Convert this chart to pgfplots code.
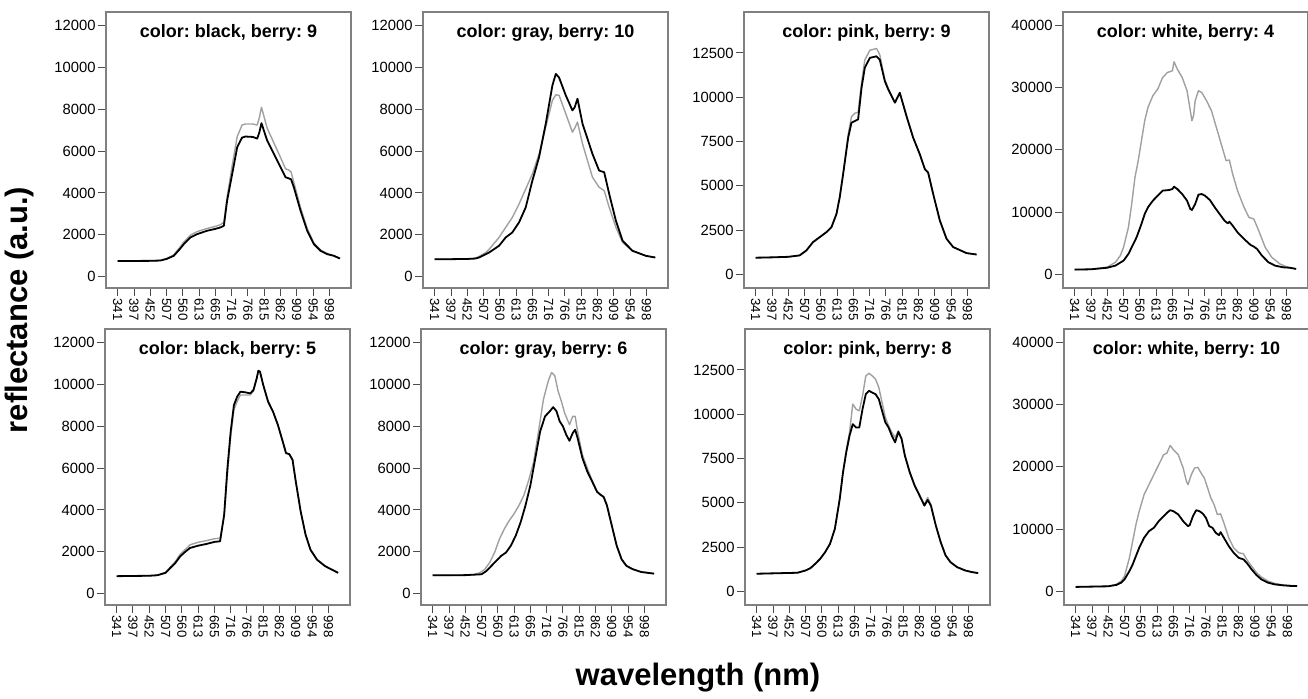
\documentclass[border=0pt]{standalone}
\usepackage{fontspec}
\setmainfont{Liberation Sans}
\usepackage{pgfplots}
\pgfplotsset{compat=1.18}
\frenchspacing
\definecolor{boxgray}{RGB}{128,128,128}
\definecolor{lightline}{RGB}{160,160,160}
\pgfplotsset{
  panel/.style={
    width=122.5pt, height=138pt, scale only axis,
    xmin=-0.72, xmax=14.33,
    xtick={0,...,13},
    xticklabels={341,397,452,507,560,613,665,716,766,815,862,909,954,998},
    xticklabel style={rotate=-90, anchor=west, font=\fontsize{6.6}{7.5}\selectfont, inner sep=1pt},
    yticklabel style={font=\fontsize{7.4}{8}\selectfont, inner sep=1pt},
    tick align=outside, major tick length=4pt,
    xtick pos=left, ytick pos=left,
    axis line style={boxgray, line width=0.6pt},
    tick style={black!70, line width=0.5pt},
    /pgf/number format/assume math mode=true,
    /pgf/number format/1000 sep={},
    scaled y ticks=false,
    every axis title shift=0pt,
    title style={at={(0.5,0.955)}, anchor=north, inner sep=0pt,
      font=\bfseries\fontsize{9}{10}\selectfont},
  },
  g/.style={lightline, line width=0.7pt, line join=round},
  k/.style={black, line width=0.9pt, line join=round},
  ya/.style={ymin=-550, ymax=12660, ytick={0,2000,...,12000}},
  yb/.style={ymin=-770, ymax=14810, ytick={0,2500,...,12500}},
  yc/.style={ymin=-2150, ymax=42100, ytick={0,10000,...,40000}},
}
\begin{document}
\begin{tikzpicture}
\useasboundingbox (0,0) rectangle (654pt,349pt);

% top row
\begin{axis}[panel, ya, at={(53pt,205pt)}, anchor=south west, title={color: black, berry: 9}]
\addplot[g] coordinates {(0,740) (2,750) (2.62,770) (3.0,860) (3.44,1030) (3.8,1380) (4.06,1650) (4.47,1980) (4.88,2150) (5.49,2300) (6.0,2400) (6.31,2480) (6.52,2600) (6.72,3800) (7.03,5300) (7.34,6700) (7.64,7250) (7.85,7300) (8.3,7300) (8.57,7250) (8.7,7600) (8.83,8100) (9.18,7100) (9.59,6400) (10.0,5700) (10.31,5150) (10.5,5100) (10.65,5000) (10.82,4500) (11.23,3300) (11.64,2300) (12.05,1600) (12.46,1270) (12.87,1100) (13.28,1000) (13.65,870)};
\addplot[k] coordinates {(0,740) (1,745) (2,750) (2.62,765) (3.0,840) (3.44,990) (3.8,1300) (4.06,1550) (4.47,1870) (4.88,2030) (5.49,2190) (6.0,2280) (6.31,2350) (6.52,2430) (6.72,3630) (7.03,4900) (7.34,6190) (7.64,6650) (7.85,6700) (8.3,6680) (8.57,6600) (8.7,6900) (8.83,7340) (9.18,6510) (9.59,5870) (10.0,5230) (10.31,4750) (10.5,4700) (10.65,4650) (10.82,4270) (11.23,3150) (11.64,2190) (12.05,1550) (12.46,1230) (12.87,1070) (13.28,990) (13.65,860)};
\end{axis}

\begin{axis}[panel, ya, at={(211.5pt,205pt)}, anchor=south west, title={color: gray, berry: 10}]
\addplot[g] coordinates {(0,830) (2,840) (2.48,870) (2.73,960) (3.14,1150) (3.34,1300) (3.95,1870) (4.36,2350) (4.77,2830) (5.18,3470) (5.59,4190) (6.0,4910) (6.41,5870) (6.82,7150) (7.23,8430) (7.44,8700) (7.64,8670) (8.05,7790) (8.46,6910) (8.6,7100) (8.77,7390) (9.08,6350) (9.69,4750) (10.1,4270) (10.41,4110) (10.72,3310) (11.13,2350) (11.54,1630) (12.15,1230) (12.97,990) (13.55,910)};
\addplot[k] coordinates {(0,830) (1,830) (2,840) (2.48,860) (2.73,910) (3.34,1150) (3.95,1470) (4.36,1870) (4.77,2110) (5.18,2590) (5.59,3310) (6.0,4590) (6.41,5710) (6.82,7310) (7.23,9150) (7.44,9700) (7.64,9520) (8.05,8670) (8.46,7950) (8.6,8100) (8.77,8510) (9.08,7310) (9.69,5870) (10.1,5070) (10.41,4990) (10.72,3950) (11.13,2670) (11.54,1710) (12.15,1230) (12.97,990) (13.55,910)};
\end{axis}

\begin{axis}[panel, yb, at={(372pt,205pt)}, anchor=south west, title={color: pink, berry: 9}]
\addplot[g] coordinates {(0,940) (1,960) (2,990) (2.7,1070) (3.11,1350) (3.52,1820) (3.93,2100) (4.34,2380) (4.65,2660) (4.96,3410) (5.16,4350) (5.37,5700) (5.68,7900) (5.88,8900) (6.09,9100) (6.29,9150) (6.5,10800) (6.7,12100) (7.01,12650) (7.42,12750) (7.62,12400) (7.93,11000) (8.14,10500) (8.55,9700) (8.85,10250) (9.26,8940) (9.67,7720) (10.08,6780) (10.39,5940) (10.59,5750) (10.9,4540) (11.31,3040) (11.72,2010) (12.13,1540) (12.95,1200) (13.57,1120)};
\addplot[k] coordinates {(0,940) (1,960) (2,990) (2.7,1070) (3.11,1350) (3.52,1820) (3.93,2100) (4.34,2380) (4.65,2660) (4.96,3410) (5.16,4350) (5.37,5660) (5.68,7720) (5.88,8560) (6.09,8660) (6.29,8750) (6.5,10530) (6.7,11660) (7.01,12220) (7.42,12310) (7.62,12120) (7.93,10910) (8.14,10440) (8.55,9690) (8.85,10250) (9.26,8940) (9.67,7720) (10.08,6780) (10.39,5940) (10.59,5750) (10.9,4540) (11.31,3040) (11.72,2010) (12.13,1540) (12.95,1200) (13.57,1120)};
\end{axis}

\begin{axis}[panel, yc, at={(531.5pt,205pt)}, anchor=south west, title={color: white, berry: 4}]
\addplot[g] coordinates {(0,800) (1,850) (2.0,1200) (2.5,1980) (2.8,3040) (3.0,4380) (3.3,7580) (3.5,11320) (3.7,15590) (3.9,18260) (4.1,21470) (4.3,24670) (4.5,26810) (4.8,28680) (5.1,29740) (5.4,31610) (5.7,32410) (6.0,32680) (6.1,34120) (6.3,32950) (6.6,31610) (6.9,29480) (7.1,26270) (7.2,24670) (7.3,25470) (7.4,27870) (7.6,29480) (7.8,29210) (8.1,27870) (8.4,26270) (8.7,23600) (9.0,20930) (9.3,18260) (9.5,18370) (9.7,16130) (10.0,13460) (10.4,10790) (10.7,9180) (11.0,8920) (11.3,7050) (11.7,4380) (12.1,2780) (12.6,1710) (13.1,1170) (13.6,910)};
\addplot[k] coordinates {(0,800) (1,850) (2,1100) (2.5,1440) (3.0,2240) (3.3,3310) (3.5,4380) (3.8,5980) (4.1,8120) (4.3,9720) (4.5,10790) (4.8,11850) (5.1,12660) (5.4,13460) (5.8,13560) (6.0,13720) (6.1,14100) (6.3,13720) (6.6,12920) (6.9,11850) (7.1,10520) (7.2,10360) (7.4,11320) (7.6,12820) (7.8,12920) (8.0,12660) (8.3,11960) (8.6,10790) (8.9,9720) (9.2,8650) (9.4,8220) (9.5,8490) (9.7,7850) (10.0,6780) (10.4,5710) (10.8,4750) (11.0,4490) (11.2,4110) (11.5,3040) (11.9,1980) (12.3,1440) (12.8,1170) (13.2,1100) (13.6,910)};
\end{axis}

% bottom row
\begin{axis}[panel, ya, at={(52.5pt,46.5pt)}, anchor=south west, title={color: black, berry: 5}]
\addplot[g] coordinates {(0,830) (1,840) (2,850) (2.5,880) (3.0,1010) (3.3,1270) (3.6,1530) (3.9,1880) (4.2,2100) (4.5,2330) (5.0,2450) (5.5,2530) (6.0,2620) (6.35,2650) (6.6,3700) (6.8,5700) (7.0,7500) (7.2,8800) (7.4,9200) (7.6,9500) (7.9,9500) (8.2,9500) (8.4,9700) (8.6,10300) (8.7,10660) (8.8,10620) (9.0,9980) (9.3,9180) (9.6,8710) (9.9,8070) (10.2,7270) (10.4,6720) (10.6,6670) (10.8,6400) (11.0,5360) (11.3,3930) (11.6,2820) (11.9,2100) (12.3,1620) (12.8,1310) (13.2,1150) (13.6,990)};
\addplot[k] coordinates {(0,830) (1,840) (2,850) (2.5,875) (3.0,990) (3.3,1230) (3.6,1460) (3.9,1780) (4.2,1990) (4.5,2180) (5.0,2290) (5.5,2370) (6.0,2470) (6.35,2500) (6.6,3770) (6.8,6000) (7.0,7750) (7.2,9020) (7.4,9420) (7.6,9660) (7.9,9630) (8.2,9580) (8.4,9740) (8.6,10300) (8.7,10660) (8.8,10620) (9.0,9980) (9.3,9180) (9.6,8710) (9.9,8070) (10.2,7270) (10.4,6720) (10.6,6670) (10.8,6400) (11.0,5360) (11.3,3930) (11.6,2820) (11.9,2100) (12.3,1620) (12.8,1310) (13.2,1150) (13.6,990)};
\end{axis}

\begin{axis}[panel, ya, at={(210.5pt,46.5pt)}, anchor=south west, title={color: gray, berry: 6}]
\addplot[g] coordinates {(0,870) (1,870) (2,880) (2.5,900) (2.9,1000) (3.2,1160) (3.5,1480) (3.8,1960) (4.1,2610) (4.4,3090) (4.7,3490) (5.0,3820) (5.3,4220) (5.6,4700) (5.9,5430) (6.2,6310) (6.5,7760) (6.8,9290) (7.1,10180) (7.3,10580) (7.5,10420) (7.7,9690) (7.9,9210) (8.1,8650) (8.4,8080) (8.6,8480) (8.75,8480) (8.9,7760) (9.2,6630) (9.5,5990) (9.8,5400) (10.1,4880) (10.3,4750) (10.5,4640) (10.7,4240) (11.0,3270) (11.3,2310) (11.6,1660) (11.9,1330) (12.3,1170) (12.8,1040) (13.2,1000) (13.6,960)};
\addplot[k] coordinates {(0,870) (1,870) (2,880) (2.5,900) (3.0,920) (3.3,1080) (3.6,1320) (3.9,1560) (4.2,1800) (4.5,1960) (4.8,2290) (5.1,2770) (5.4,3410) (5.7,4220) (6.0,5180) (6.3,6470) (6.6,7760) (6.9,8480) (7.2,8730) (7.4,8920) (7.6,8730) (7.8,8240) (8.0,8000) (8.2,7600) (8.4,7310) (8.6,7680) (8.75,7840) (8.9,7440) (9.2,6470) (9.5,5830) (9.8,5350) (10.1,4860) (10.3,4730) (10.5,4620) (10.7,4220) (11.0,3250) (11.3,2290) (11.6,1640) (11.9,1320) (12.3,1160) (12.8,1030) (13.2,990) (13.6,950)};
\end{axis}

\begin{axis}[panel, yb, at={(372.5pt,46.5pt)}, anchor=south west, title={color: pink, berry: 8}]
\addplot[g] coordinates {(0,995) (2.5,1050) (3.0,1180) (3.3,1310) (3.6,1560) (3.9,1840) (4.2,2210) (4.5,2680) (4.8,3530) (5.1,5220) (5.3,6720) (5.5,7950) (5.7,8970) (5.9,10570) (6.1,10290) (6.3,10190) (6.5,11040) (6.7,12160) (6.9,12310) (7.1,12160) (7.3,11980) (7.5,11510) (7.7,10660) (7.9,9820) (8.1,9350) (8.3,8970) (8.5,8690) (8.7,9060) (8.9,8650) (9.1,7700) (9.4,6750) (9.7,6000) (10.0,5450) (10.3,4900) (10.5,5300) (10.7,4900) (11.0,3740) (11.3,2790) (11.6,2040) (11.9,1660) (12.3,1380) (12.8,1190) (13.2,1100) (13.6,1040)};
\addplot[k] coordinates {(0,995) (2.5,1050) (3.0,1180) (3.3,1310) (3.6,1560) (3.9,1840) (4.2,2210) (4.5,2680) (4.8,3530) (5.1,5220) (5.3,6720) (5.5,7850) (5.7,8780) (5.9,9440) (6.1,9250) (6.3,9250) (6.5,10290) (6.7,11130) (6.9,11320) (7.1,11220) (7.3,11130) (7.5,10850) (7.7,10190) (7.9,9540) (8.1,9250) (8.3,8780) (8.5,8410) (8.7,9010) (8.9,8600) (9.1,7660) (9.4,6720) (9.7,5970) (10.0,5410) (10.3,4840) (10.5,5160) (10.7,4840) (11.0,3720) (11.3,2780) (11.6,2030) (11.9,1650) (12.3,1370) (12.8,1180) (13.2,1090) (13.6,1030)};
\end{axis}

\begin{axis}[panel, yc, at={(532pt,46.5pt)}, anchor=south west, title={color: white, berry: 10}]
\addplot[g] coordinates {(0,750) (2.0,850) (2.5,1170) (2.8,1700) (3.0,2500) (3.3,5430) (3.5,8100) (3.7,10760) (3.9,12890) (4.2,15550) (4.5,17150) (4.8,18750) (5.1,20350) (5.4,21940) (5.6,22210) (5.8,23430) (6.0,22740) (6.3,21940) (6.6,19810) (6.8,17680) (6.9,17150) (7.1,18750) (7.3,19810) (7.5,19920) (7.7,19010) (7.9,18220) (8.1,16620) (8.3,15020) (8.5,13950) (8.7,12360) (8.9,12460) (9.1,11020) (9.4,8630) (9.7,7030) (10.0,6230) (10.3,6070) (10.5,5170) (10.8,4100) (11.1,3040) (11.4,2340) (11.8,1700) (12.2,1330) (12.7,1070) (13.6,905)};
\addplot[k] coordinates {(0,750) (2.0,850) (2.5,1070) (2.8,1440) (3.0,1970) (3.3,3300) (3.5,4370) (3.7,5700) (3.9,7030) (4.2,8630) (4.5,9690) (4.8,10230) (5.1,11290) (5.4,12090) (5.6,12620) (5.8,13050) (6.0,12890) (6.3,12360) (6.6,11290) (6.9,10490) (7.0,10650) (7.2,12090) (7.4,13050) (7.6,12890) (7.8,12520) (8.0,11820) (8.2,10490) (8.4,10230) (8.6,9430) (8.8,9050) (8.9,9530) (9.1,8630) (9.4,7300) (9.7,6230) (10.0,5430) (10.3,5170) (10.5,4630) (10.8,3570) (11.1,2660) (11.4,1970) (11.8,1440) (12.2,1170) (12.7,1010) (13.2,910) (13.6,905)};
\end{axis}

\node[rotate=90, anchor=base, font=\bfseries\fontsize{15.5}{18}\selectfont] at (13.5pt,194pt) {reflectance (a.u.)};
\node[anchor=base, font=\bfseries\fontsize{15.5}{18}\selectfont] at (349pt,6.5pt) {wavelength (nm)};
\end{tikzpicture}
\end{document}
